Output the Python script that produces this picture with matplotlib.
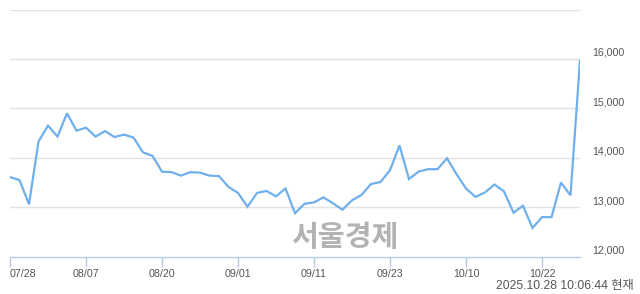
import matplotlib
matplotlib.use("Agg")
import matplotlib.pyplot as plt
from matplotlib.transforms import offset_copy

# daily closing prices, 07/28 .. 10/28 (61 trading days)
prices = [
    13610, 13550, 13060, 14330, 14650, 14430, 14900, 14550, 14610, 14430,
    14540, 14420, 14470, 14410, 14110, 14040, 13720, 13710, 13640, 13710,
    13700, 13640, 13630, 13410, 13290, 13010, 13290, 13330, 13220, 13380,
    12880, 13070, 13100, 13200, 13080, 12950, 13140, 13250, 13470, 13510,
    13750, 14250, 13570, 13720, 13770, 13770, 13990, 13670, 13380, 13210,
    13300, 13460, 13320, 12890, 13030, 12580, 12800, 12800, 13500, 13240,
    15970,
]
tick_pos = [0, 8, 16, 24, 32, 40, 48, 56]
tick_labels = ["07/28", "08/07", "08/20", "09/01", "09/11", "09/23", "10/10", "10/22"]
y_levels = [12000, 13000, 14000, 15000, 16000, 17000]
y_labels = ["12,000", "13,000", "14,000", "15,000", "16,000", ""]
stamp = "2025.10.28 10:06:44 현재"
watermark = "서울경제"

plt.rcParams['font.family'] = ['Liberation Sans', 'Noto Sans CJK KR']

fig = plt.figure(figsize=(6.4, 2.94), dpi=100)
ax = fig.add_axes([10 / 640, 1 - 256.7 / 294, 570 / 640, (256.7 - 9.5) / 294])

ax.plot(range(len(prices)), prices, color="#6fb0ec", lw=1.6, zorder=3,
        solid_joinstyle="miter")

ax.set_xlim(0, len(prices) - 1)
ax.set_ylim(12000, 17000)

for v in y_levels[1:]:
    ax.axhline(v, color="#e2e2e2", lw=1, zorder=1)

for s in ["top", "left", "right"]:
    ax.spines[s].set_visible(False)
ax.spines["bottom"].set_color("#b9cde9")
ax.spines["bottom"].set_linewidth(1)

ax.set_yticks([])
ax.set_xticks(tick_pos)
ax.set_xticklabels(tick_labels, fontsize=7.7, color="#555555")
ax.tick_params(axis="x", length=7, width=1, color="#b9cde9", pad=2)
ax.get_xticklabels()[0].set_horizontalalignment("left")

# y labels to the right, sitting a little above each level
trans = offset_copy(ax.get_yaxis_transform(), fig=fig, x=12, y=6, units="dots")
for v, lab in zip(y_levels, y_labels):
    ax.text(1, v, lab, transform=trans, ha="left", va="center",
            fontsize=7.7, color="#555555", clip_on=False)

ax.text(0.588, 0.078, watermark, transform=ax.transAxes, ha="center", va="center",
        fontsize=21, fontweight="bold", color="#b3b3b3", family="Noto Sans CJK KR",
        zorder=2)

fig.text(634 / 640, 1 - 285.7 / 294, stamp, ha="right", va="center",
         fontsize=8.8, color="#555555")

fig.savefig("out.png", dpi=100)
